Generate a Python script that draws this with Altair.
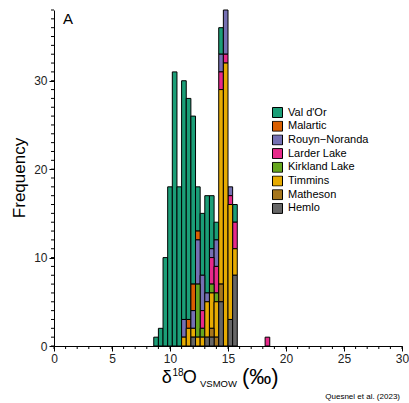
import altair as alt
import pandas as pd

# ---- data ----
bin_start = [8.6, 9.0, 9.4, 9.8, 10.2, 10.6, 11.0, 11.4, 11.8, 12.2, 12.6, 13.0,
             13.4, 13.8, 14.2, 14.6, 15.0, 15.4, 18.2]
bin_width = 0.4
categories = ["Val d'Or", "Malartic", "Rouyn\u2212Noranda", "Larder Lake",
              "Kirkland Lake", "Timmins", "Matheson", "Hemlo"]
colors = ["#1B9E77", "#D95F02", "#7570B3", "#E7298A",
          "#66A61E", "#E6AB02", "#A6761D", "#666666"]

val_dor  = [1, 2, 10, 18, 31, 18, 27, 25, 19, 5, 7, 11, 6, 2, 3, 0, 0, 2, 0]
malartic = [0, 0, 0, 0, 0, 0, 0, 1, 3, 1, 0, 0, 0, 0, 0, 0, 0, 0, 0]
rouyn    = [0, 0, 0, 0, 0, 0, 2, 0, 2, 5, 4, 1, 1, 3, 2, 5, 1, 0, 0]
larder   = [0, 0, 0, 0, 0, 0, 0, 0, 0, 0, 2, 0, 3, 3, 2, 1, 1, 3, 1]
kirkland = [0, 0, 0, 0, 0, 0, 0, 0, 0, 6, 1, 0, 1, 1, 0, 0, 0, 0, 0]
timmins  = [0, 0, 0, 0, 0, 0, 1, 2, 1, 1, 1, 4, 4, 4, 22, 32, 13, 3, 0]
matheson = [0, 0, 0, 0, 0, 0, 0, 0, 0, 0, 0, 0, 1, 1, 2, 0, 0, 0, 0]
hemlo    = [0, 0, 0, 0, 0, 0, 0, 0, 1, 0, 0, 1, 1, 0, 5, 0, 3, 8, 0]
series = [val_dor, malartic, rouyn, larder, kirkland, timmins, matheson, hemlo]

x_major = [0, 5, 10, 15, 20, 25, 30]
y_major = [0, 10, 20, 30]
x_minor = list(range(0, 31))
y_minor = list(range(0, 39))

rows = []
n = len(categories)
for ci, (cat, counts) in enumerate(zip(categories, series)):
    for b, c in zip(bin_start, counts):
        if c > 0:
            rows.append({"start": b, "end": round(b + bin_width, 2),
                         "count": c, "cat": cat, "ord": n - 1 - ci})
df = pd.DataFrame(rows)

W, H = 348, 336
FONT = "Liberation Sans"

xscale = alt.Scale(domain=[0, 30], nice=False)
yscale = alt.Scale(domain=[0, 38], nice=False)

bars = alt.Chart(df).transform_stack(
    stack="count", groupby=["start"], sort=[alt.SortField("ord", order="ascending")],
    as_=["y0", "y1"],
).mark_rect(stroke="black", strokeWidth=1).encode(
    x=alt.X("start:Q", scale=xscale,
            axis=alt.Axis(values=x_major, title=None, tickSize=5, labelPadding=2,
                          labelFontSize=12, labelFont=FONT, labelColor="#222",
                          domainColor="black", tickColor="black", grid=False,
                          labelFlush=False)),
    x2="end:Q",
    y=alt.Y("y0:Q", scale=yscale,
            axis=alt.Axis(values=y_major, title=None, tickSize=5, labelPadding=2,
                          labelFontSize=12, labelFont=FONT, labelColor="#222",
                          domainColor="black", tickColor="black", grid=False)),
    y2="y1:Q",
    color=alt.Color("cat:N", scale=alt.Scale(domain=categories, range=colors),
                    legend=alt.Legend(title=None, orient="none", legendX=218, legendY=97,
                                      symbolType="square", symbolSize=100,
                                      symbolStrokeColor="black", symbolStrokeWidth=1,
                                      symbolOpacity=1, clipHeight=11,
                                      labelFontSize=11, labelFont=FONT, labelColor="black",
                                      rowPadding=1.7, labelOffset=5, padding=0)),
)

ytick = alt.Chart(pd.DataFrame({"v": y_minor})).mark_rule(color="black", strokeWidth=1).encode(
    y=alt.Y("v:Q", scale=yscale, axis=None), x=alt.value(-3), x2=alt.value(0))
xtick = alt.Chart(pd.DataFrame({"v": x_minor})).mark_rule(color="black", strokeWidth=1).encode(
    x=alt.X("v:Q", scale=xscale, axis=None), y=alt.value(H), y2=alt.value(H + 3))

def txt(s, x, y, size, align="left", baseline="alphabetic", angle=0, color="black"):
    return alt.Chart(pd.DataFrame({"t": [s]})).mark_text(
        font=FONT, fontSize=size, align=align, baseline=baseline, angle=angle,
        color=color).encode(x=alt.value(x), y=alt.value(y), text="t:N")

labels = [
    txt("A", 9, 14, 15),
    txt("Frequency", -29, 168, 17, align="center", angle=270),
    txt("\u03b4", 107.7, 373.3, 18),
    txt("18", 118.5, 366, 10),
    txt("O", 128.7, 373.3, 18),
    txt("VSMOW", 146, 376.7, 9.5),
    txt("(\u2030)", 188, 374, 22),
    txt("Quesnel et al. (2023)", 346, 389, 8, align="right"),
]

chart = alt.layer(bars, ytick, xtick, *labels).resolve_axis(
    x="independent", y="independent"
).properties(
    width=W, height=H,
    autosize=alt.AutoSizeParams(type="none"),
    padding={"left": 54, "top": 10, "right": 7, "bottom": 57},
).configure_view(stroke=None)

chart.save("out.html", embed_options={"renderer": "svg", "actions": False})
